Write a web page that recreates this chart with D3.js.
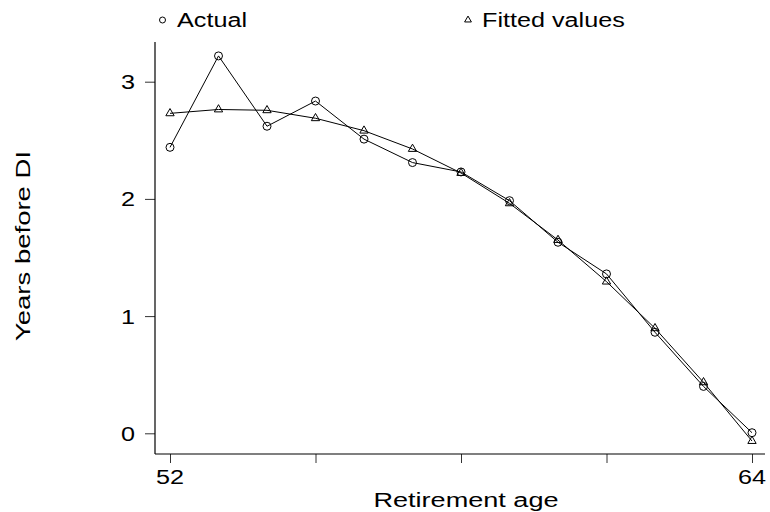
<!DOCTYPE html>
<html>
<head>
<meta charset="utf-8">
<script src="https://cdn.jsdelivr.net/npm/d3@7"></script>
<style>
  html, body { margin: 0; padding: 0; background: #fff; }
  text { font-family: "Liberation Sans", Arial, sans-serif; fill: #000; }
</style>
</head>
<body>
<svg id="chart" width="770" height="512"></svg>
<script>
const ages = [52, 53, 54, 55, 56, 57, 58, 59, 60, 61, 62, 63, 64];
const actual = [2.44, 3.22, 2.62, 2.835, 2.51, 2.31, 2.23, 1.985, 1.63, 1.36, 0.862, 0.40, 0.005];
const fitted = [2.73, 2.763, 2.756, 2.688, 2.582, 2.426, 2.221, 1.962, 1.649, 1.294, 0.896, 0.435, -0.066];
const xTicks = [52, 55, 58, 61, 64];
const xTickLabels = ["52", "", "", "", "64"];
const yTicks = [0, 1, 2, 3];
const yTickLabels = ["0", "1", "2", "3"];

const svg = d3.select("#chart");
const fs = 21;

const x = d3.scaleLinear().domain([52, 64]).range([170, 752]);
const y = d3.scaleLinear().domain([0, 3]).range([433.3, 81.7]);

const axisLeftX = 155, axisBottomY = 454;
const yTop = 42, xRight = 765;

// stretched text helper
function stext(g, str, px, py, anchor, rot, stretch) {
  stretch = stretch || 1.2;
  return g.append("text")
    .attr("font-size", fs)
    .attr("text-anchor", anchor)
    .attr("transform", `translate(${px},${py})` + (rot ? ` rotate(${rot})` : "") + ` scale(${stretch},1)`)
    .text(str);
}

// Y axis
const yAxis = d3.axisLeft(y).tickValues(yTicks).tickSize(10).tickFormat(() => "");
const gy = svg.append("g").attr("transform", `translate(${axisLeftX},0)`).call(yAxis);
gy.select(".domain").remove();
gy.selectAll(".tick line").attr("stroke", "#333").attr("stroke-width", 1);
svg.append("line").attr("x1", axisLeftX).attr("x2", axisLeftX)
  .attr("y1", yTop).attr("y2", axisBottomY).attr("stroke", "#000").attr("stroke-width", 1.2);
yTicks.forEach((v, i) => {
  stext(svg, yTickLabels[i], 135, y(v) + 7.5, "end");
});

// X axis
const xAxis = d3.axisBottom(x).tickValues(xTicks).tickSize(9).tickFormat(() => "");
const gx = svg.append("g").attr("transform", `translate(0,${axisBottomY})`).call(xAxis);
gx.select(".domain").remove();
gx.selectAll(".tick line").attr("stroke", "#333").attr("stroke-width", 1);
svg.append("line").attr("x1", axisLeftX).attr("x2", xRight)
  .attr("y1", axisBottomY).attr("y2", axisBottomY).attr("stroke", "#000").attr("stroke-width", 1.2);
xTicks.forEach((v, i) => {
  if (xTickLabels[i]) stext(svg, xTickLabels[i], x(v), 483.5, "middle");
});

// Axis titles
stext(svg, "Retirement age", 466, 506.5, "middle", 0, 1.29);
stext(svg, "Years before DI", 30, 246, "middle", -90, 1.31);

// Lines
const line = d3.line().x(d => x(d[0])).y(d => y(d[1]));
const actualPts = ages.map((a, i) => [a, actual[i]]);
const fittedPts = ages.map((a, i) => [a, fitted[i]]);

svg.append("path").datum(fittedPts).attr("d", line)
  .attr("fill", "none").attr("stroke", "#000").attr("stroke-width", 1);
svg.append("path").datum(actualPts).attr("d", line)
  .attr("fill", "none").attr("stroke", "#000").attr("stroke-width", 1);

// Markers
svg.append("g").selectAll("circle").data(actualPts).join("circle")
  .attr("cx", d => x(d[0])).attr("cy", d => y(d[1])).attr("r", 4)
  .attr("fill", "none").attr("stroke", "#000").attr("stroke-width", 1);

const tri = d3.symbol().type(d3.symbolTriangle).size(30);
svg.append("g").selectAll("path").data(fittedPts).join("path")
  .attr("d", tri)
  .attr("transform", d => `translate(${x(d[0])},${y(d[1])})`)
  .attr("fill", "none").attr("stroke", "#000").attr("stroke-width", 1);

// Legend
const lg = svg.append("g");
lg.append("circle").attr("cx", 162.5).attr("cy", 20).attr("r", 3)
  .attr("fill", "none").attr("stroke", "#000").attr("stroke-width", 1);
stext(lg, "Actual", 177, 27, "start");
lg.append("path").attr("d", d3.symbol().type(d3.symbolTriangle).size(20))
  .attr("transform", "translate(468,20)")
  .attr("fill", "none").attr("stroke", "#000").attr("stroke-width", 1);
stext(lg, "Fitted values", 482, 27, "start");
</script>
</body>
</html>
